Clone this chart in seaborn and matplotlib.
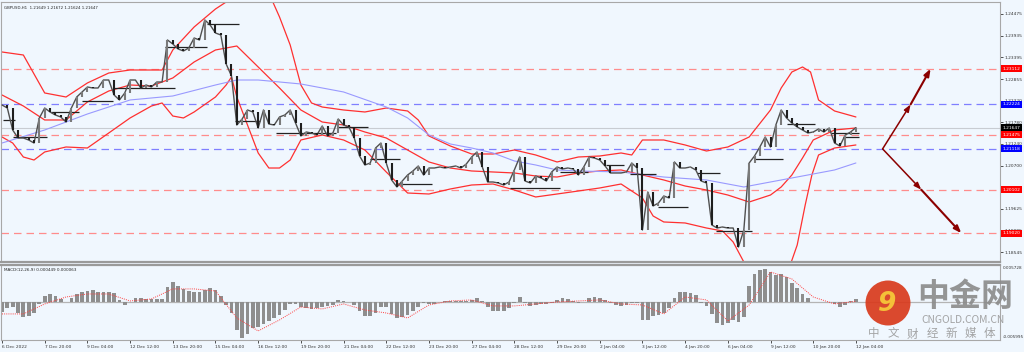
import matplotlib
matplotlib.use('Agg')
import matplotlib.pyplot as plt
import matplotlib.transforms as mtrans
from matplotlib.patches import Ellipse
import numpy as np
import pandas as pd
import seaborn as sns

# ---------------- data ----------------
symbol_text = "GBPUSD,H1  1.21649 1.21672 1.21624 1.21647"
macd_text = "MACD(12,26,9) 0.000449 0.000063"

candle_step = 4  # bars per drawn candle
closes = [
    1.22210, 1.22135, 1.21588, 1.21389, 1.21389, 1.21339, 1.21264, 1.21887, 1.22135, 1.22036,
    1.21961, 1.21912, 1.21787, 1.22135, 1.22409, 1.22534, 1.22658, 1.22633, 1.22633, 1.22832,
    1.22832, 1.22459, 1.22335, 1.22509, 1.22832, 1.22832, 1.22633, 1.22708, 1.22658, 1.22782,
    1.22782, 1.23828, 1.23728, 1.23604, 1.23554, 1.23629, 1.23877, 1.23828, 1.24326, 1.24201,
    1.24002, 1.23952, 1.23230, 1.22932, 1.21712, 1.21862, 1.22086, 1.22036, 1.21638, 1.22086,
    1.21737, 1.21712, 1.21912, 1.21961, 1.22086, 1.21762, 1.21439, 1.21538, 1.21513, 1.21464,
    1.21688, 1.21439, 1.21513, 1.21862, 1.21712, 1.21663, 1.21389, 1.20941, 1.20717, 1.20767,
    1.21140, 1.21264, 1.20767, 1.20344, 1.20170, 1.20319, 1.20468, 1.20568, 1.20692, 1.20468,
    1.20642, 1.20642, 1.20667, 1.20642, 1.20667, 1.20692, 1.20642, 1.20742, 1.20916, 1.21041,
    1.20667, 1.20294, 1.20294, 1.20269, 1.20219, 1.20294, 1.20593, 1.20916, 1.20319, 1.20269,
    1.20443, 1.20394, 1.20319, 1.20543, 1.20667, 1.20617, 1.20642, 1.20617, 1.20468, 1.20667,
    1.20916, 1.20891, 1.20841, 1.20692, 1.20518, 1.20518, 1.20518, 1.20543, 1.20767, 1.20642,
    1.19099, 1.20045, 1.19697, 1.19771, 1.19946, 1.19896, 1.20792, 1.20642, 1.20642, 1.20667,
    1.20593, 1.20319, 1.20269, 1.19224, 1.19149, 1.19174, 1.19149, 1.19149, 1.18676, 1.19099,
    1.20767, 1.20941, 1.21165, 1.21414, 1.21165, 1.21712, 1.22086, 1.21887, 1.21762, 1.21663,
    1.21588, 1.21513, 1.21538, 1.21613, 1.21538, 1.21638, 1.21264, 1.21190, 1.21464, 1.21538,
    1.21647]

upper_bars = [0, 16, 32, 48, 64, 80, 96, 112, 120, 128, 144, 160, 176, 192, 203, 208, 216, 224, 232, 240,
              256, 272, 288, 304, 312, 320, 336, 352, 368, 384, 400, 416, 432, 448, 464, 472, 480, 496, 512, 528,
              544, 560, 576, 584, 592, 600, 606, 612, 624, 640]
upper_vals = [1.23529, 1.23454, 1.22509, 1.22409, 1.22758, 1.23006, 1.23081, 1.23081, 1.23081, 1.23579,
              1.24151, 1.24599, 1.24947, 1.25445, 1.24773, 1.24400, 1.23703, 1.22708, 1.22260, 1.22160,
              1.22086, 1.22036, 1.22135, 1.22061, 1.21837, 1.21439, 1.21190, 1.20991, 1.20991, 1.21090,
              1.20966, 1.20792, 1.20916, 1.20941, 1.21016, 1.20966, 1.21339, 1.21339, 1.21215, 1.21065,
              1.21165, 1.21414, 1.22086, 1.22633, 1.23031, 1.23156, 1.23031, 1.22335, 1.22061, 1.21912]

middle_bars = [0, 16, 32, 48, 64, 80, 96, 112, 128, 144, 160, 176, 192, 208, 224, 240,
               256, 272, 288, 304, 320, 336, 352, 368, 384, 400, 416, 432, 448, 464, 480, 496, 512, 528,
               544, 560, 576, 584, 592, 600, 608, 624, 640]
middle_vals = [1.22459, 1.22185, 1.21837, 1.21837, 1.22285, 1.22558, 1.22708, 1.22683, 1.22882, 1.23280,
               1.23579, 1.23678, 1.23156, 1.22633, 1.22086, 1.21787, 1.21712, 1.21538, 1.21389, 1.21090,
               1.20792, 1.20642, 1.20568, 1.20543, 1.20518, 1.20443, 1.20418, 1.20518, 1.20568, 1.20593,
               1.20468, 1.20344, 1.20194, 1.20095, 1.19970, 1.19796, 1.19970, 1.20170, 1.20468, 1.20891,
               1.21339, 1.21588, 1.21638]

lower_bars = [0, 8, 16, 24, 32, 48, 64, 80, 96, 112, 120, 128, 136, 144, 160, 168, 172, 176, 184, 192,
              200, 208, 216, 224, 240, 256, 272, 288, 304, 320, 336, 352, 368, 384, 400, 416, 432, 448, 464, 480,
              488, 496, 512, 528, 540, 548, 556, 568, 584, 590, 596, 602, 607, 612, 624, 640]
lower_vals = [1.21414, 1.21264, 1.20916, 1.20841, 1.21041, 1.21165, 1.21140, 1.21513, 1.21887, 1.22185,
              1.22260, 1.21936, 1.21887, 1.22036, 1.22409, 1.22708, 1.22907, 1.22409, 1.21712, 1.21016,
              1.20642, 1.20642, 1.20841, 1.21339, 1.21464, 1.21339, 1.21090, 1.20543, 1.20020, 1.19995,
              1.20120, 1.20219, 1.20244, 1.20095, 1.19921, 1.19995, 1.20070, 1.20145, 1.20244, 1.19896,
              1.19448, 1.19299, 1.19274, 1.19149, 1.19075, 1.18801, 1.18303, 1.17731, 1.17606, 1.18154,
              1.18726, 1.19722, 1.20468, 1.20966, 1.21140, 1.21215]

ma_bars = [0, 32, 64, 96, 128, 160, 176, 192, 224, 256, 288, 304, 320, 336, 352, 368, 384, 400, 416, 432,
           464, 496, 528, 556, 584, 608, 624, 640]
ma_vals = [1.21264, 1.21588, 1.21986, 1.22335, 1.22434, 1.22708, 1.22832, 1.22832, 1.22733, 1.22534,
           1.22160, 1.21887, 1.21464, 1.21240, 1.21140, 1.21016, 1.20817, 1.20717, 1.20593, 1.20568,
           1.20543, 1.20418, 1.20344, 1.20170, 1.20344, 1.20493, 1.20593, 1.20767]

seg_start = [1, 8, 37, 60, 83, 122, 154, 175, 205, 251, 276, 298, 381, 418, 453, 471, 492, 521, 535, 564, 588, 621, 630]
seg_end = [10, 34, 58, 83, 130, 154, 178, 193, 250, 274, 298, 322, 418, 439, 466, 490, 514, 538, 562, 585, 609, 642, 642]
seg_level = [1.21837, 1.21414, 1.22036, 1.22310, 1.22633, 1.23653, 1.24226, 1.21812, 1.21513, 1.21663,
             1.20866, 1.20244, 1.20145, 1.20543, 1.20717, 1.20493, 1.19672, 1.20518, 1.19075, 1.20866,
             1.21737, 1.21513, 1.21414]

red_levels = [1.23112, 1.21475, 1.20102, 1.19020]
blue_levels = [1.22224, 1.21118]
current_price = 1.21647

arrow_up_bars = [660, 681, 696]
arrow_up_prices = [1.21118, 1.22224, 1.23112]
arrow_dn_bars = [660, 689, 719]
arrow_dn_prices = [1.21118, 1.20102, 1.19020]

price_ticks = [1.24475, 1.23935, 1.23395, 1.22855, 1.22320, 1.21780, 1.21240,
               1.20700, 1.20165, 1.19625, 1.19085, 1.18545]

# MACD main (units of 1e-4), one per drawn candle
macd_hist = [
    -16.1, -9.8, -8.3, -17.7, -23.9, -22.4, -17.7, -3.6, 8.9, 12.0,
    8.9, 4.2, -0.5, 5.8, 12.0, 15.2, 16.7, 18.3, 15.2, 15.2,
    15.2, 13.6, 2.7, -5.2, -0.5, 5.8, 5.8, 4.2, 4.2, 4.2,
    4.2, 23.0, 30.8, 24.5, 19.9, 16.7, 15.2, 15.2, 18.3, 21.4,
    18.3, 8.9, -5.2, -17.7, -44.2, -56.7, -50.5, -41.1, -39.5, -34.9,
    -30.2, -25.5, -20.8, -13.0, -3.6, -3.6, -8.3, -9.8, -11.4, -9.8,
    -8.3, -6.7, -5.2, 2.7, 1.1, -0.5, -5.2, -14.5, -22.4, -22.4,
    -17.7, -8.3, -8.3, -19.2, -25.5, -23.9, -20.8, -14.5, -8.3, -2.0,
    -3.6, -3.6, -0.5, 1.1, 1.1, 1.1, 1.1, 1.1, 2.7, 5.8,
    1.1, -8.3, -14.5, -14.5, -14.5, -9.8, -2.0, 7.3, -2.0, -6.7,
    -5.2, -3.6, -3.6, -2.0, 2.7, 5.8, 4.2, 1.1, -2.0, -0.5,
    5.8, 7.3, 5.8, 2.7, -2.0, -5.2, -6.7, -5.2, -2.0, -2.0,
    -28.6, -28.6, -22.4, -20.8, -17.7, -9.8, 5.8, 15.2, 15.2, 13.6,
    10.5, -2.0, -6.7, -19.2, -33.3, -36.4, -33.3, -28.6, -31.7, -23.9,
    24.5, 43.5, 49.5, 51.1, 46.4, 41.7, 43.5, 38.6, 29.2, 21.4,
    12.0, 5.8, -0.5, -0.5, -0.5, -0.5, -3.6, -8.3, -5.2, 1.1,
    4.49]
signal_step = 16
macd_signal = [
    -19.2, -19.2, -3.6, 7.3, 12.0, 12.0, 1.1, 4.2, 19.9, 19.9,
    16.7, -25.5, -45.8, -28.6, -8.3, -11.4, -3.6, -13.0, -17.7, -25.5,
    -5.2, 1.1, 2.7, -6.7, -6.7, -3.6, -0.5, 1.1, 2.7, -3.6,
    -5.2, -19.2, 7.3, 2.7, -30.2, -5.2, 46.4, 35.5, 7.3, -3.6,
    0.63]
macd_top, macd_bottom = 0.005728, -0.005995

time_labels = ["6 Dec 2022", "7 Dec 20:00", "9 Dec 04:00", "12 Dec 12:00", "13 Dec 20:00",
               "15 Dec 04:00", "16 Dec 12:00", "19 Dec 20:00", "21 Dec 04:00", "22 Dec 12:00",
               "23 Dec 20:00", "27 Dec 04:00", "28 Dec 12:00", "29 Dec 20:00", "2 Jan 04:00",
               "3 Jan 12:00", "4 Jan 20:00", "6 Jan 04:00", "9 Jan 12:00", "10 Jan 20:00",
               "12 Jan 04:00"]
label_step = 32

# ---------------- style ----------------
sns.set_theme(style='white')
plt.rcParams['font.family'] = ['DejaVu Sans', 'Noto Sans CJK SC']
BG = '#F0F7FE'
TXT = '#333333'

fig = plt.figure(figsize=(10.24, 3.52), dpi=100, facecolor=BG)
W, H = 1024.0, 352.0
ax = fig.add_axes([1 / W, 90 / H, 999 / W, 260 / H], facecolor=BG)
ax2 = fig.add_axes([1 / W, 12 / H, 999 / W, 75 / H], facecolor=BG)

xmin, xmax = -0.75, 748.0
ax.set_xlim(xmin, xmax)
ax2.set_xlim(xmin, xmax)
ax.set_ylim(1.18303, 1.24773)
ax2.set_ylim(macd_bottom, macd_top)

# horizontal levels
for lv in red_levels:
    ax.axhline(lv, color='#FF8C8C', lw=0.9, ls=(0, (6, 4)), zorder=1)
for lv in blue_levels:
    ax.axhline(lv, color='#7F7FFF', lw=0.9, ls=(0, (6, 4)), zorder=1)
ax.axhline(current_price, color='#C8CCD2', lw=0.8, zorder=1)

# bands and MA
bands = [(upper_bars, upper_vals), (middle_bars, middle_vals), (lower_bars, lower_vals)]
for b, v in bands:
    sns.lineplot(data=pd.DataFrame({'bar': b, 'price': v}), x='bar', y='price', ax=ax,
                 color='#FF3030', lw=0.9, estimator=None, sort=False, zorder=2)
sns.lineplot(data=pd.DataFrame({'bar': ma_bars, 'price': ma_vals}), x='bar', y='price', ax=ax,
             color='#9999FF', lw=0.8, estimator=None, sort=False, zorder=2)

# level segments
ax.hlines(seg_level, seg_start, seg_end, color='#222222', lw=0.9, zorder=3)

# candles: closes joined, bodies from previous close
cl = np.array(closes)
op = np.concatenate([[cl[0]], cl[:-1]])
cb = np.arange(len(cl)) * candle_step
sns.lineplot(data=pd.DataFrame({'bar': cb, 'close': cl}), x='bar', y='close', ax=ax,
             color='#505050', lw=1.0, estimator=None, sort=False, zorder=4)
upm = cl >= op
ax.vlines(cb[upm], op[upm], cl[upm], color='#7A7A7A', lw=1.5, zorder=5)
ax.vlines(cb[~upm], op[~upm], cl[~upm], color='#1E1E1E', lw=1.5, zorder=5)

# arrows
for bars_, prices_ in [(arrow_up_bars, arrow_up_prices), (arrow_dn_bars, arrow_dn_prices)]:
    for i in range(len(bars_) - 1):
        ax.annotate('', xy=(bars_[i + 1], prices_[i + 1]), xytext=(bars_[i], prices_[i]),
                    arrowprops=dict(arrowstyle='-|>,head_length=0.35,head_width=0.13',
                                    color='#8B0000', lw=1.1 + 0.4 * i, shrinkA=0, shrinkB=0),
                    zorder=6)

# title
ax.text(0.003, 0.985, symbol_text, transform=ax.transAxes, fontsize=2.8, color='#222222',
        va='top', ha='left')

# axes styling main
ax.set_xlabel('')
ax.set_ylabel('')
ax.set_xticks([])
ax.yaxis.tick_right()
ax.set_yticks(price_ticks)
ax.set_yticklabels([f'{p:.5f}' for p in price_ticks])
ax.tick_params(axis='y', labelsize=3.2, length=2, width=0.6, pad=1.5, colors=TXT, right=True, direction='out')
for s in ['left', 'top', 'right']:
    ax.spines[s].set_color('#A8A8A8')
    ax.spines[s].set_linewidth(0.8)
ax.spines['bottom'].set_color('#9A9A9A')
ax.spines['bottom'].set_linewidth(1.6)

# right-side level boxes
trans = mtrans.blended_transform_factory(ax.transAxes, ax.transData)
box_levels = [(lv, '#FF0000') for lv in red_levels] + [(lv, '#0000FF') for lv in blue_levels] + \
             [(current_price, '#000000')]
for lv, c in box_levels:
    ax.text(1.0025, lv, f'{lv:.5f}', transform=trans, fontsize=3.2, color='white', va='center',
            ha='left', zorder=10, clip_on=False,
            bbox=dict(boxstyle='square,pad=0.35', fc=c, ec='none'))

# MACD panel
mh = np.array(macd_hist) * 1e-4
ax2.axhline(0, color='#B4B4B4', lw=0.9, zorder=1)
ax2.bar(cb, mh, width=2.8, color='#8E8E8E', linewidth=0, zorder=2)
sb = np.arange(len(macd_signal)) * signal_step
sns.lineplot(data=pd.DataFrame({'bar': sb, 'sig': np.array(macd_signal) * 1e-4}), x='bar', y='sig',
             ax=ax2, color='#FF4040', lw=0.7, linestyle=(0, (1, 1.2)), estimator=None, sort=False, zorder=3)
ax2.set_xlabel('')
ax2.set_ylabel('')
ax2.set_yticks([])
ax2.text(0.003, 0.96, macd_text, transform=ax2.transAxes, fontsize=3.0, color='#222222',
         va='top', ha='left')
ax2.text(1.0025, 0.985, f'{macd_top:.6f}', transform=ax2.transAxes, fontsize=3.0, color=TXT,
         va='top', ha='left', clip_on=False)
ax2.text(1.0025, 0.015, f'{macd_bottom:.6f}', transform=ax2.transAxes, fontsize=3.0, color=TXT,
         va='bottom', ha='left', clip_on=False)
tick_pos = np.arange(len(time_labels)) * label_step
ax2.set_xticks(tick_pos)
ax2.set_xticklabels(time_labels, ha='left')
ax2.tick_params(axis='x', labelsize=3.2, length=2, width=0.6, pad=1.5, colors=TXT, bottom=True,
                direction='out')
for s in ['left', 'right', 'bottom']:
    ax2.spines[s].set_color('#A8A8A8')
    ax2.spines[s].set_linewidth(0.8)
ax2.spines['top'].set_color('#9A9A9A')
ax2.spines['top'].set_linewidth(1.6)

# watermark
fig.add_artist(Ellipse((888 / W, 1 - 303 / H), 45 / W, 45 / H, transform=fig.transFigure,
                       fc='#D93A1C', ec='none', alpha=0.92, zorder=20))
fig.text(887 / W, 1 - 304 / H, '9', fontsize=19, fontweight='bold', color='#F4C038', ha='center',
         va='center', zorder=21, style='italic')
fig.text(965 / W, 1 - 297 / H, '中金网', fontsize=23, fontweight='bold', color='#8A8A8A', alpha=0.9,
         ha='center', va='center', family=['Noto Sans CJK SC', 'DejaVu Sans'], zorder=21)
fig.text(963 / W, 1 - 320 / H, 'CNGOLD.COM.CN', fontsize=7.4, color='#9A9A9A', alpha=0.9,
         ha='center', va='center', family=['Noto Sans CJK SC', 'DejaVu Sans'], zorder=21)
wm_chars = list('中文财经新媒体')
for i, ch in enumerate(wm_chars):
    fig.text((874 + i * 19.3) / W, 1 - 334 / H, ch, fontsize=8.3, color='#9A9A9A', alpha=0.9,
             ha='center', va='center', family=['Noto Sans CJK SC', 'DejaVu Sans'], zorder=21)

fig.savefig('out.png', dpi=100, facecolor=BG)
